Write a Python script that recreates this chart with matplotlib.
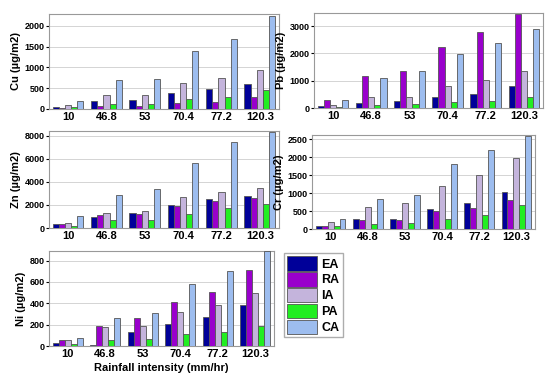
import matplotlib.pyplot as plt
import numpy as np

plt.rcParams['font.family'] = ['Liberation Sans', 'DejaVu Sans']
plt.rcParams['font.weight'] = 'bold'

rain = ['10', '46.8', '53', '70.4', '77.2', '120.3']
series = ['EA', 'RA', 'IA', 'PA', 'CA']
colors = ['#000099', '#9900cc', '#c4b4dc', '#22ee22', '#9dbdef']

cu = [[50, 190, 210, 380, 470, 600],
      [30, 80, 80, 150, 170, 280],
      [90, 330, 330, 620, 750, 940],
      [40, 120, 130, 240, 290, 450],
      [200, 690, 730, 1390, 1690, 2240]]
pb = [[80, 200, 250, 390, 500, 800],
      [310, 1180, 1370, 2240, 2790, 3440],
      [120, 400, 420, 800, 1020, 1370],
      [50, 120, 130, 230, 270, 400],
      [290, 1100, 1350, 1970, 2390, 2910]]
zn = [[350, 950, 1280, 1980, 2480, 2780],
      [330, 1130, 1200, 1900, 2380, 2620],
      [430, 1280, 1500, 2700, 3080, 3480],
      [150, 680, 700, 1200, 1750, 2100],
      [1000, 2900, 3380, 5600, 7450, 8300]]
cr = [[80, 290, 290, 570, 730, 1020],
      [70, 240, 260, 490, 590, 800],
      [190, 620, 730, 1200, 1500, 1990],
      [70, 150, 160, 290, 380, 680],
      [280, 850, 960, 1800, 2190, 2600]]
ni = [[25, 5, 130, 210, 270, 380],
      [60, 190, 265, 410, 510, 710],
      [60, 180, 190, 320, 380, 500],
      [20, 60, 65, 110, 130, 190],
      [75, 260, 310, 580, 700, 890]]

W, H = 550, 382
fig = plt.figure(figsize=(5.5, 3.82), dpi=100)

def panel(px, data, ylab, ymax, yticks, xlabel=None):
    l, r, t, b = px
    ax = fig.add_axes([l / W, 1 - b / H, (r - l) / W, (b - t) / H])
    x = np.arange(len(rain))
    bw = 0.16
    for i, vals in enumerate(data):
        ax.bar(x + (i - 2) * bw, vals, bw, color=colors[i], edgecolor='#555555',
               linewidth=0.6, label=series[i], zorder=3)
    ax.set_xlim(-0.5, len(rain) - 0.5)
    ax.set_ylim(0, ymax)
    ax.set_yticks(yticks)
    ax.set_xticks(x)
    ax.set_xticklabels(rain, fontsize=8, fontweight='bold')
    ax.tick_params(axis='y', labelsize=6.5, length=2, pad=1)
    ax.tick_params(axis='x', length=0, pad=2)
    ax.yaxis.grid(True, color='#d4d4d4', linewidth=0.7, zorder=0)
    for s in ax.spines.values():
        s.set_color('#999999')
        s.set_linewidth(0.8)
    ax.set_ylabel(ylab, fontsize=8, fontweight='bold', labelpad=3)
    if xlabel:
        ax.set_xlabel(xlabel, fontsize=8, fontweight='bold', labelpad=3)
    return ax

panel((49, 279, 14, 109), cu, 'Cu (µg/m2)', 2280, [0, 500, 1000, 1500, 2000])
panel((314, 543, 13, 108), pb, 'Pb (µg/m2)', 3480, [0, 1000, 2000, 3000])
panel((49, 279, 131, 228), zn, 'Zn (µg/m2)', 8400, [0, 2000, 4000, 6000, 8000])
panel((312, 535, 135, 229), cr, 'Cr (µg/m2)', 2620, [0, 500, 1000, 1500, 2000, 2500])
ax = panel((49, 274, 251, 346), ni, 'Ni (µg/m2)', 890, [0, 200, 400, 600, 800],
           xlabel='Rainfall intensity (mm/hr)')

h, lb = ax.get_legend_handles_labels()
fig.legend(h, lb, loc='upper left', bbox_to_anchor=(284 / W, 1 - 253 / H),
           frameon=True, fancybox=False, edgecolor='#999999',
           handlelength=2.4, handleheight=1.4, handletextpad=0.35,
           labelspacing=0.12, borderpad=0.25, borderaxespad=0,
           prop={'weight': 'bold', 'size': 9})

fig.savefig('out.png', dpi=100)
